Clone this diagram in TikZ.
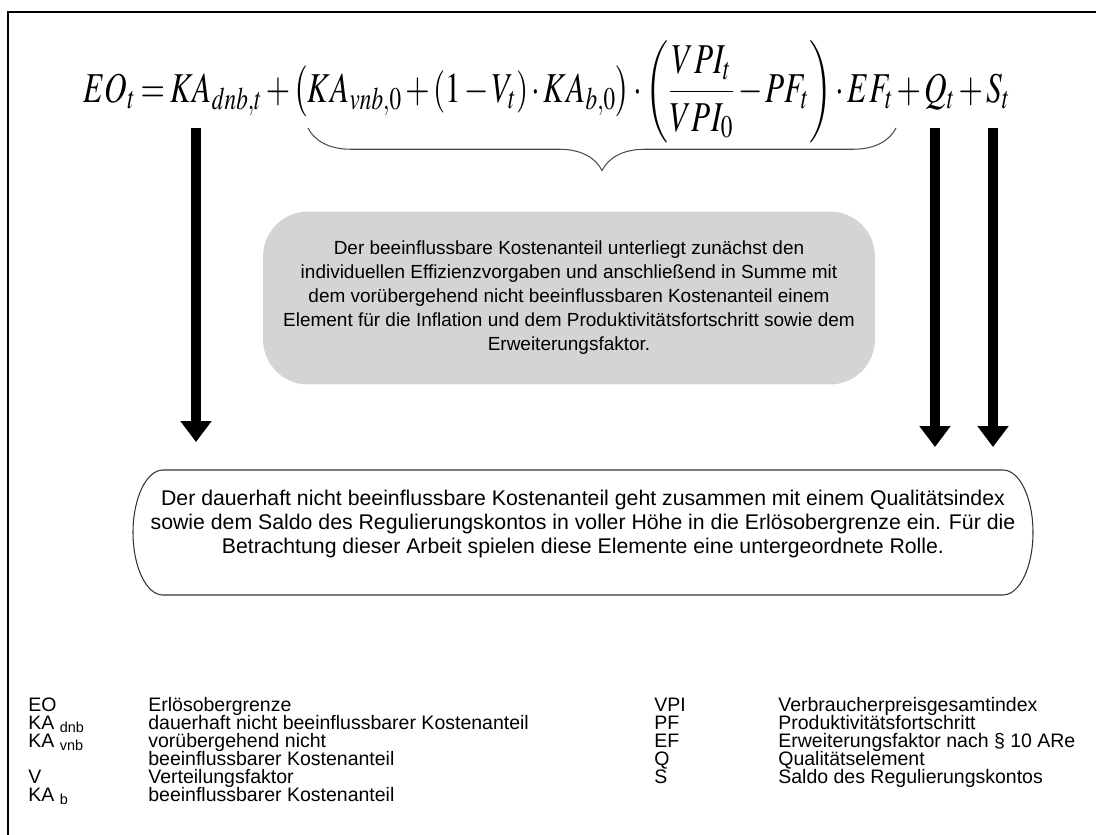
\documentclass[tikz,border=0pt]{standalone}
\usepackage{amsmath}
\usepackage{graphicx}
\usepackage{mathptmx}
\usepackage[no-math]{fontspec}
\setmainfont{Liberation Sans}
\usepackage{tikz}
\usetikzlibrary{positioning,arrows.meta,decorations.pathreplacing,calc}

\begin{document}
\begin{tikzpicture}[
    x=0.02cm, y=-0.02cm,
    frame/.style={line width=1.1pt},
    formula/.style={inner sep=0pt, anchor=base west, font=\fontsize{24}{28}\selectfont},
    bigarrow/.style={line width=0.2cm, -{Triangle[width=0.6cm,length=0.42cm]}},
    bracket/.style={draw=black!70, line width=0.6pt, decorate, decoration={brace, mirror, amplitude=0.85cm}},
    graybox/.style={fill=black!17, rounded corners=0.9cm, minimum width=12.24cm, minimum height=3.46cm, align=center, inner sep=0pt, font=\fontsize{10.8}{13.66}\selectfont},
    textbox/.style={align=center, inner sep=0pt, font=\fontsize{12.1}{13.66}\selectfont},
    outline/.style={draw=black!80, line width=0.6pt},
    legend/.style={anchor=base west, inner sep=0pt, font=\fontsize{11.1}{12}\selectfont},
  ]
  \useasboundingbox (0,0) rectangle (1096,835);
  \draw[frame] (1096,12) -| (8,835);
  % formula
  \node[formula] (eo) at (83,102) {\resizebox*{18.54cm}{2.04cm}{\thinmuskip=1.5mu\medmuskip=2mu\thickmuskip=3mu%
    $EO_t = KA_{dnb,t} + \bigl(KA_{vnb,0} + (1-V_t)\cdot KA_{b,0}\bigr)\cdot\left(\dfrac{VPI_t}{VPI_0} - PF_t\right)\cdot EF_t + Q_t + S_t$}};
  \draw[bracket] (308,128) -- (896,128);
  % explanations
  \node[graybox] (infl) at (569,298) {Der beeinflussbare Kostenanteil unterliegt zunächst den\\individuellen Effizienzvorgaben und anschließend in Summe mit\\dem vorübergehend nicht beeinflussbaren Kostenanteil einem\\Element für die Inflation und dem Produktivitätsfortschritt sowie dem\\Erweiterungsfaktor.};
  \node[textbox] (fixed) at (583,524) {Der dauerhaft nicht beeinflussbare Kostenanteil geht zusammen mit einem Qualitätsindex\\sowie dem Saldo des Regulierungskontos in voller Höhe in die Erlösobergrenze ein. Für die\\Betrachtung dieser Arbeit spielen diese Elemente eine untergeordnete Rolle.};
  \draw[outline] ($(fixed.center)+(-420,-54)$) -- ($(fixed.center)+(420,-54)$)
    arc[start angle=90, end angle=-90, x radius=0.6cm, y radius=1.25cm]
    -- ($(fixed.center)+(-420,71)$)
    arc[start angle=270, end angle=90, x radius=0.6cm, y radius=1.25cm] -- cycle;
  % arrows
  \coordinate (dnbtop) at (196,128);
  \coordinate (dnbend) at (196,442);
  \coordinate (qtop) at (935,128);
  \coordinate (qend) at (935,447);
  \coordinate (stop) at (993,128);
  \coordinate (send) at (993,447);
  \draw[bigarrow] (dnbtop) -- (dnbend);
  \draw[bigarrow] (qtop) -- (qend);
  \draw[bigarrow] (stop) -- (send);
  % legend
  \node[legend] (leo) at (28,711) {EO};
  \node[legend] (leod) at (148,711) {Erlösobergrenze};
  \node[legend] (ldnb) at (28,729) {KA \textsubscript{dnb}};
  \node[legend] (ldnbd) at (148,729) {dauerhaft nicht beeinflussbarer Kostenanteil};
  \node[legend] (lvnb) at (28,747) {KA \textsubscript{vnb}};
  \node[legend] (lvnbd) at (148,747) {vorübergehend nicht};
  \node[legend] (lvnbe) at (148,765) {beeinflussbarer Kostenanteil};
  \node[legend] (lv) at (28,783) {V};
  \node[legend] (lvd) at (148,783) {Verteilungsfaktor};
  \node[legend] (lb) at (28,801) {KA \textsubscript{b}};
  \node[legend] (lbd) at (148,801) {beeinflussbarer Kostenanteil};
  \node[legend] (lvpi) at (654,711) {VPI};
  \node[legend] (lvpid) at (778,711) {Verbraucherpreisgesamtindex};
  \node[legend] (lpf) at (654,729) {PF};
  \node[legend] (lpfd) at (778,729) {Produktivitätsfortschritt};
  \node[legend] (lef) at (654,747) {EF};
  \node[legend] (lefd) at (778,747) {Erweiterungsfaktor nach § 10 ARe};
  \node[legend] (lq) at (654,765) {Q};
  \node[legend] (lqd) at (778,765) {Qualitätselement};
  \node[legend] (ls) at (654,783) {S};
  \node[legend] (lsd) at (778,783) {Saldo des Regulierungskontos};
\end{tikzpicture}
\end{document}
